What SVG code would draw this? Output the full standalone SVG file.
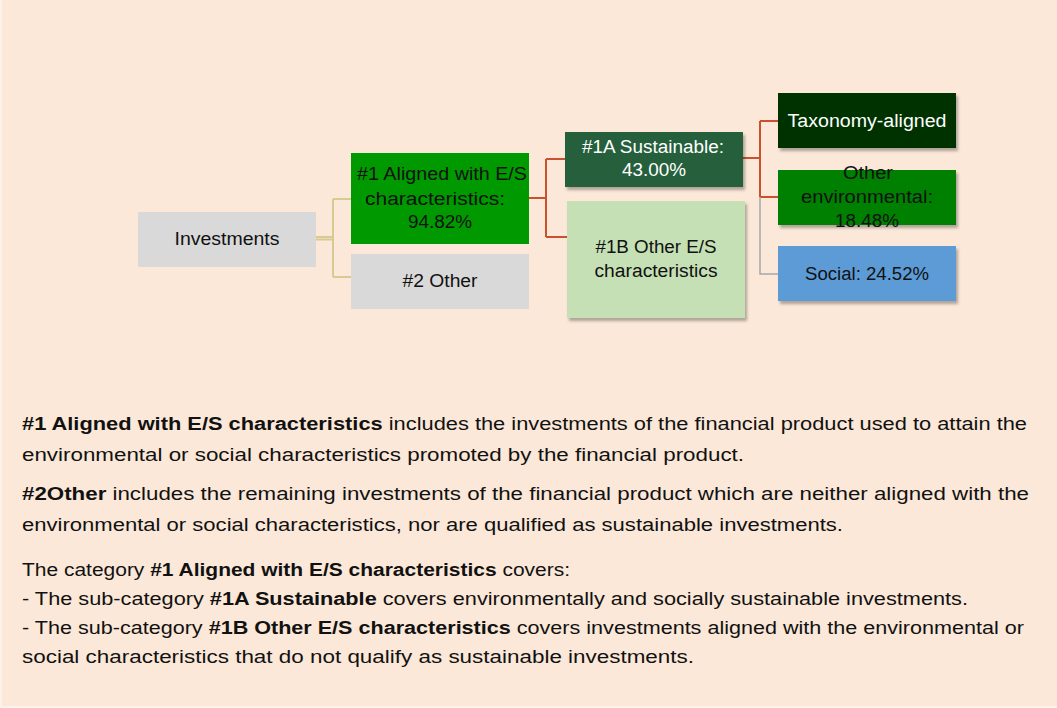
<svg xmlns="http://www.w3.org/2000/svg" width="1057" height="708" viewBox="0 0 1057 708">
<defs>
<filter id="sh" x="-10%" y="-10%" width="130%" height="140%">
<feDropShadow dx="2" dy="3" stdDeviation="1.5" flood-color="#000" flood-opacity="0.3"/>
</filter>
<style>
.t{font-family:"Liberation Sans",Arial,sans-serif;font-size:18px;text-anchor:middle;fill:#111}
.w{fill:#fff}
.p{font-family:"Liberation Sans",Arial,sans-serif;font-size:17.5px;fill:#111}
.b{font-weight:bold}
.gold{stroke:#d6cb92;stroke-width:2;fill:none}
.red{stroke:#c9512f;stroke-width:2;fill:none}
.gray{stroke:#a6a6a6;stroke-width:1.5;fill:none}
</style>
</defs>
<rect x="0" y="0" width="1057" height="708" fill="#fbf3ea"/>
<rect x="2" y="0" width="1055" height="706" fill="#fbe8d8"/>
<g id="connectors">
<path class="gold" d="M316 237 H333 M333 199 V277 M333 199 H351 M333 277 H351"/>
<path class="gold" d="M316 239.5 H333" stroke-width="1.5"/>
<path class="red" d="M529 198 H546" stroke-width="3"/>
<path class="red" d="M546 159 V237 M546 159 H565 M546 237 H567"/>
<path class="red" d="M743 158 H760" stroke-width="3"/>
<path class="red" d="M760 121 V197 M760 121 H778 M760 197 H778"/>
<path class="gray" d="M760 197 V274 H778"/>
</g>
<g id="investments">
<rect x="138" y="212" width="178" height="55" fill="#d9d9d9"/>
<text class="t" x="227" y="245" textLength="105" lengthAdjust="spacingAndGlyphs">Investments</text>
</g>
<g id="aligned">
<rect x="351" y="153" width="178" height="91" fill="#009900"/>
<text class="t" x="442" y="180" textLength="170" lengthAdjust="spacingAndGlyphs">#1 Aligned with E/S</text>
<text class="t" x="435" y="205" textLength="140" lengthAdjust="spacingAndGlyphs">characteristics:</text>
<text class="t" x="440" y="228" textLength="64" lengthAdjust="spacingAndGlyphs">94.82%</text>
</g>
<g id="other2">
<rect x="351" y="254" width="178" height="55" fill="#d9d9d9"/>
<text class="t" x="440" y="287" textLength="75" lengthAdjust="spacingAndGlyphs">#2 Other</text>
</g>
<g id="sustainable">
<rect x="565" y="132" width="178" height="55" fill="#255e3b" filter="url(#sh)"/>
<text class="t w" x="653" y="153" textLength="142" lengthAdjust="spacingAndGlyphs">#1A Sustainable:</text>
<text class="t w" x="654" y="176" textLength="64" lengthAdjust="spacingAndGlyphs">43.00%</text>
</g>
<g id="other1b">
<rect x="567" y="201" width="178" height="117" fill="#c5e0b4" filter="url(#sh)"/>
<text class="t" x="656" y="253" textLength="121" lengthAdjust="spacingAndGlyphs">#1B Other E/S</text>
<text class="t" x="656" y="277" textLength="123" lengthAdjust="spacingAndGlyphs">characteristics</text>
</g>
<g id="taxonomy">
<rect x="778" y="93" width="178" height="55" fill="#003300" filter="url(#sh)"/>
<text class="t w" x="867" y="127" textLength="159" lengthAdjust="spacingAndGlyphs">Taxonomy-aligned</text>
</g>
<g id="otherenv">
<rect x="778" y="170" width="178" height="55" fill="#008000" filter="url(#sh)"/>
<text class="t" x="868" y="179" textLength="50" lengthAdjust="spacingAndGlyphs">Other</text>
<text class="t" x="867" y="203" textLength="132" lengthAdjust="spacingAndGlyphs">environmental:</text>
<text class="t" x="867" y="227" textLength="64" lengthAdjust="spacingAndGlyphs">18.48%</text>
</g>
<g id="social">
<rect x="778" y="246" width="178" height="55" fill="#5b9bd5" filter="url(#sh)"/>
<text class="t" x="867" y="280" textLength="124" lengthAdjust="spacingAndGlyphs">Social: 24.52%</text>
</g>
<g id="notes">
<text class="p" x="22" y="430" textLength="1005" lengthAdjust="spacingAndGlyphs"><tspan class="b">#1 Aligned with E/S characteristics</tspan> includes the investments of the financial product used to attain the</text>
<text class="p" x="22" y="461" textLength="722" lengthAdjust="spacingAndGlyphs">environmental or social characteristics promoted by the financial product.</text>
<text class="p" x="22" y="500" textLength="1007" lengthAdjust="spacingAndGlyphs"><tspan class="b">#2Other</tspan> includes the remaining investments of the financial product which are neither aligned with the</text>
<text class="p" x="22" y="531" textLength="821" lengthAdjust="spacingAndGlyphs">environmental or social characteristics, nor are qualified as sustainable investments.</text>
<text class="p" x="22" y="576" textLength="548" lengthAdjust="spacingAndGlyphs">The category <tspan class="b">#1 Aligned with E/S characteristics</tspan> covers:</text>
<text class="p" x="22" y="605" textLength="946" lengthAdjust="spacingAndGlyphs">- The sub-category <tspan class="b">#1A Sustainable</tspan> covers environmentally and socially sustainable investments.</text>
<text class="p" x="22" y="634" textLength="1002" lengthAdjust="spacingAndGlyphs">- The sub-category <tspan class="b">#1B Other E/S characteristics</tspan> covers investments aligned with the environmental or</text>
<text class="p" x="22" y="663" textLength="672" lengthAdjust="spacingAndGlyphs">social characteristics that do not qualify as sustainable investments.</text>
</g>
</svg>
